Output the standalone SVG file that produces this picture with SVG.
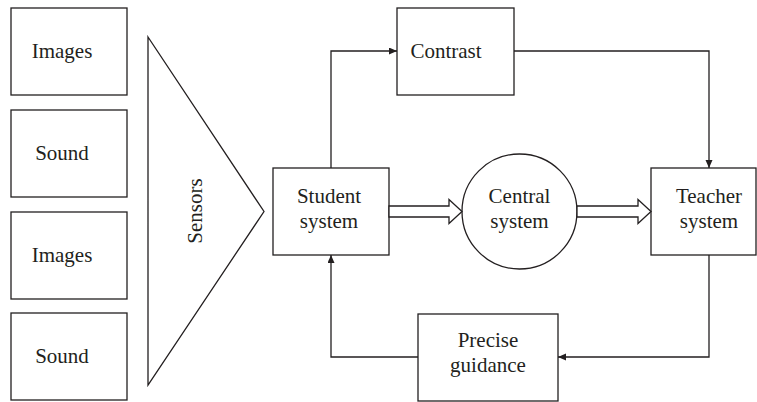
<svg xmlns="http://www.w3.org/2000/svg" width="757" height="402" viewBox="0 0 757 402">
  <style>
    .box { fill: #ffffff; stroke: #231f20; stroke-width: 1.3; }
    .lbl { font-family: "Liberation Serif", "Times New Roman", serif; font-size: 21px; fill: #231f20; text-anchor: middle; }
    .conn { fill: none; stroke: #231f20; stroke-width: 1.3; }
    .hollow { fill: #ffffff; stroke: #231f20; stroke-width: 1.3; stroke-linejoin: miter; }
  </style>
  <defs>
    <marker id="arr" markerUnits="userSpaceOnUse" markerWidth="9" markerHeight="8" refX="8" refY="3.5" orient="auto">
      <path d="M0,0 L8,3.5 L0,7 z" fill="#231f20"/>
    </marker>
  </defs>
  <rect width="757" height="402" fill="#ffffff"/>

  <g id="images1">
    <rect class="box" x="11" y="8" width="116" height="87"/>
    <text class="lbl" x="62" y="58">Images</text>
  </g>
  <g id="sound1">
    <rect class="box" x="11" y="110" width="116" height="87"/>
    <text class="lbl" x="62" y="160">Sound</text>
  </g>
  <g id="images2">
    <rect class="box" x="11" y="212" width="116" height="87"/>
    <text class="lbl" x="62" y="262">Images</text>
  </g>
  <g id="sound2">
    <rect class="box" x="11" y="313" width="116" height="87"/>
    <text class="lbl" x="62" y="363">Sound</text>
  </g>

  <g id="sensors">
    <polygon class="box" points="148,37 264,211.5 148,385"/>
    <text class="lbl" transform="translate(202,211) rotate(-90)" x="0" y="0">Sensors</text>
  </g>

  <g id="student">
    <rect class="box" x="273" y="168" width="116" height="87"/>
    <text class="lbl" x="329" y="203">Student</text>
    <text class="lbl" x="329" y="228">system</text>
  </g>

  <g id="contrast">
    <rect class="box" x="397" y="8" width="117" height="87"/>
    <text class="lbl" x="446" y="58">Contrast</text>
  </g>

  <g id="central">
    <circle class="box" cx="519.5" cy="211.5" r="57.5"/>
    <text class="lbl" x="519.5" y="203">Central</text>
    <text class="lbl" x="519.5" y="228">system</text>
  </g>

  <g id="teacher">
    <rect class="box" x="651" y="168" width="105" height="87"/>
    <text class="lbl" x="709" y="203">Teacher</text>
    <text class="lbl" x="709" y="228">system</text>
  </g>

  <g id="guidance">
    <rect class="box" x="418" y="314" width="140" height="87"/>
    <text class="lbl" x="488" y="347">Precise</text>
    <text class="lbl" x="488" y="372">guidance</text>
  </g>

  <g id="connectors">
    <path class="conn" d="M331,168 V51 H397" marker-end="url(#arr)"/>
    <path class="conn" d="M514,51 H709 V168" marker-end="url(#arr)"/>
    <path class="conn" d="M709,255 V357 H558" marker-end="url(#arr)"/>
    <path class="conn" d="M418,357 H331 V255" marker-end="url(#arr)"/>
    <polygon class="hollow" points="389,206 449,206 449,199.5 462,211.5 449,223.5 449,217 389,217"/>
    <polygon class="hollow" points="577,206 638,206 638,199.5 651,211.5 638,223.5 638,217 577,217"/>
  </g>
</svg>
